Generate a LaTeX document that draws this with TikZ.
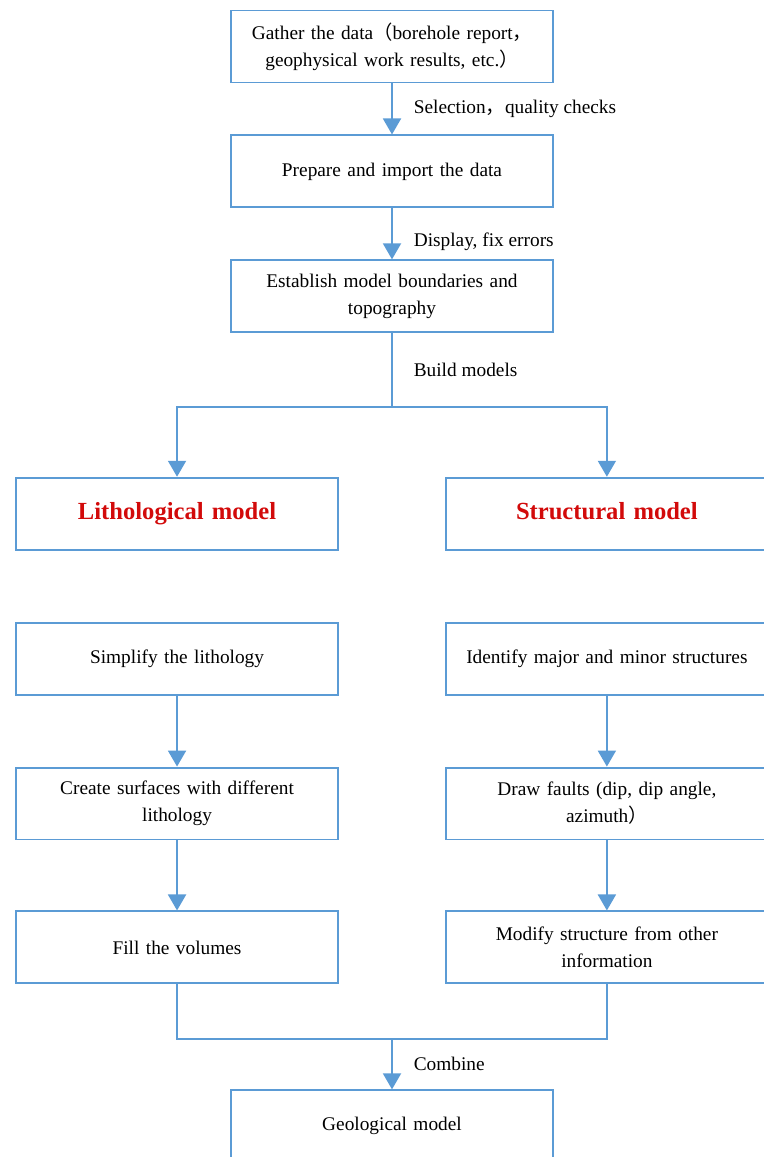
\documentclass[tikz,border=0pt]{standalone}
\usepackage{fontspec}
\setmainfont{Liberation Serif}
\newfontfamily\cjk{Noto Sans CJK SC}
\usetikzlibrary{arrows.meta, positioning, calc}
\definecolor{flowblue}{RGB}{91,155,213}
\definecolor{titlered}{RGB}{210,10,10}

\begin{document}
\begin{tikzpicture}[
  x=0.02cm, y=-0.02cm,
  node distance=1.02cm and 2.12cm,
  stepbox/.style={draw=flowblue, line width=1.1pt,
                  minimum width=6.44cm, minimum height=1.44cm,
                  text width=6.3cm, inner sep=0pt, align=center,
                  font=\fontsize{11}{15.4}\selectfont},
  modelbox/.style={stepbox, text=titlered,
                   font=\fontsize{14}{17}\selectfont\bfseries,
                   execute at begin node=\strut},
  arrow/.style={-{Triangle[width=0.36cm, length=0.32cm]},
                line width=1.1pt, flowblue},
  link/.style={line width=1.1pt, flowblue},
  label/.style={right, xshift=0.3cm, text=black,
                font=\fontsize{11}{13}\selectfont},
]
\useasboundingbox (0,0) rectangle (764,1157);
\clip (0,0) rectangle (764,1157);

%% Preparation steps (centre column)
\node[stepbox] (gather) at (392,46.5)
  {Gather the data{\cjk （}borehole report{\cjk ，}\\geophysical work results, etc.{\cjk ）}};
\node[stepbox, below=of gather]   (prepare)  {Prepare and import the data};
\node[stepbox, below=of prepare]  (boundary) {Establish model boundaries and\\topography};

%% Two models
\node[modelbox, below=2.87cm of boundary, xshift=-4.3cm] (litho)  {Lithological model};
\node[modelbox, right=of litho]                          (struct) {Structural model};

%% Lithological branch
\node[stepbox, below=1.42cm of litho]    (simplify) {Simplify the lithology};
\node[stepbox, below=1.42cm of simplify] (surfaces) {Create surfaces with different\\lithology};
\node[stepbox, below=1.40cm of surfaces] (volumes)  {Fill the volumes};

%% Structural branch
\node[stepbox, below=1.42cm of struct]   (identify) {Identify major and minor structures};
\node[stepbox, below=1.42cm of identify] (faults)   {Draw faults (dip, dip angle,\\azimuth{\cjk ）}};
\node[stepbox, below=1.40cm of faults]   (modify)   {Modify structure from other\\information};

%% Result
\node[stepbox, below=2.10cm of volumes, xshift=4.3cm] (geomodel) {Geological model};

%% Junctions
\coordinate (split) at ($(boundary.south)+(0,-1.48cm)$);
\coordinate (merge) at ($(geomodel.north)+(0,1.0cm)$);

%% Main flow
\draw[arrow] (gather)  -- node[label]{Selection{\cjk ，}quality checks} (prepare);
\draw[arrow] (prepare) -- node[label, yshift=-0.15cm]{Display, fix errors} (boundary);
\draw[link]  (boundary) -- node[label]{Build models} (split);
\draw[arrow] (split) -| (litho);
\draw[arrow] (split) -| (struct);

\foreach \a/\b in {simplify/surfaces, surfaces/volumes, identify/faults, faults/modify}
  \draw[arrow] (\a) -- (\b);

\draw[link]  (volumes) |- (merge) -| (modify);
\draw[arrow] (merge) -- node[label]{Combine} (geomodel);

\end{tikzpicture}
\end{document}
